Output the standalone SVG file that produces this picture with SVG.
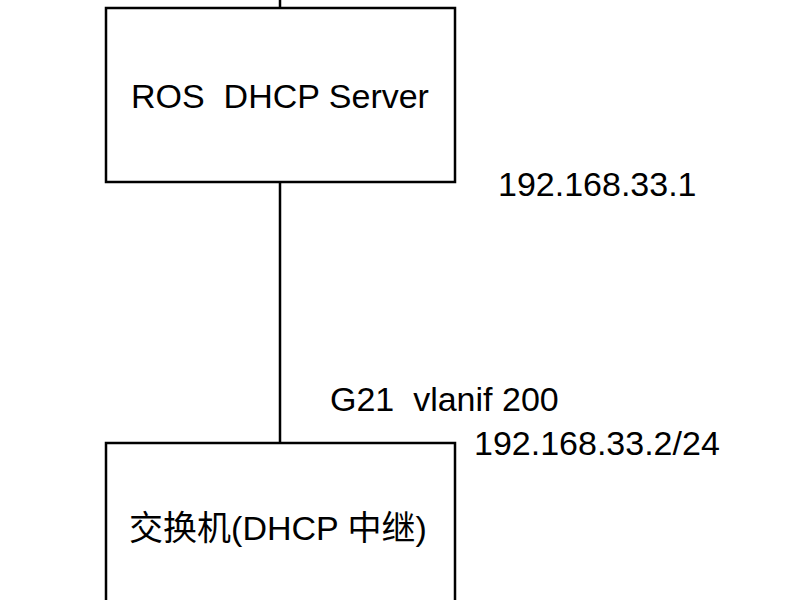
<svg xmlns="http://www.w3.org/2000/svg" width="800" height="600" viewBox="0 0 800 600">
<style>
.node rect{fill:#ffffff;stroke:#000000;stroke-width:2.5}
.edge{stroke:#000000;stroke-width:2.5;fill:none}
text{font-family:"Liberation Sans","Noto Sans CJK SC",Arial,sans-serif;font-size:34px;fill:#000000}
</style>
<rect width="800" height="600" fill="#ffffff"/>
<g id="connectors">
<line class="edge" x1="280" y1="-5" x2="280" y2="8"/>
<line class="edge" x1="280" y1="182" x2="280" y2="443"/>
</g>
<g id="ros-server" class="node">
<rect x="106" y="8" width="349" height="174"/>
<text x="280" y="108" text-anchor="middle" xml:space="preserve">ROS  DHCP Server</text>
</g>
<g id="switch" class="node">
<rect x="106" y="443" width="349" height="180"/>
<text x="278" y="540" text-anchor="middle">交换机(DHCP 中继)</text>
</g>
<g id="labels">
<text x="498" y="196">192.168.33.1</text>
<text x="330" y="411" xml:space="preserve">G21  vlanif 200</text>
<text x="474" y="455">192.168.33.2/24</text>
</g>
</svg>
